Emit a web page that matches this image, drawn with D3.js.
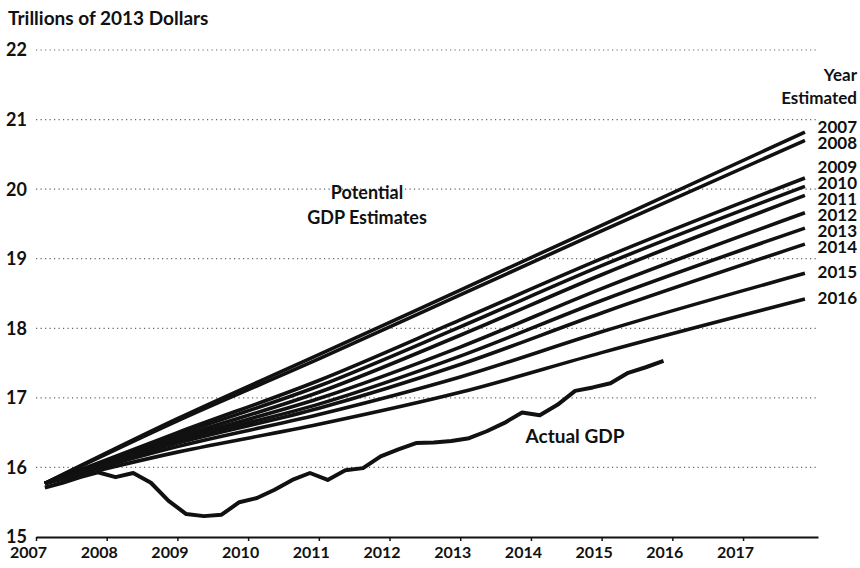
<!DOCTYPE html>
<html>
<head>
<meta charset="utf-8">
<script src="https://cdn.jsdelivr.net/npm/d3@7"></script>
<style>
  body { margin: 0; background: #fff; }
  text { font-family: Lato, "Open Sans", sans-serif; fill: #111; }
</style>
</head>
<body>
<svg id="chart"></svg>
<script>
(function (d3) {
  'use strict'
  // data
  const W = 860
  const H = 568

  const yTicks = [15, 16, 17, 18, 19, 20, 21, 22]
  const xTicks = [2007, 2008, 2009, 2010, 2011, 2012, 2013, 2014, 2015, 2016, 2017]

  // potential GDP estimates, one line per year estimated
  const vintages = [2007, 2008, 2009, 2010, 2011, 2012, 2013, 2014, 2015, 2016]
  const estYears = [2007.125, 2009, 2011, 2013, 2015, 2017.875]
  const est2007 = [15.77, 16.70, 17.62, 18.55, 19.48, 20.82]
  const est2008 = [15.77, 16.67, 17.56, 18.48, 19.40, 20.70]
  const est2009 = [15.77, 16.50, 17.25, 18.12, 19.00, 20.16]
  const est2010 = [15.77, 16.47, 17.17, 18.02, 18.90, 20.04]
  const est2011 = [15.77, 16.43, 17.08, 17.90, 18.77, 19.91]
  const est2012 = [15.77, 16.40, 16.99, 17.73, 18.57, 19.66]
  const est2013 = [15.77, 16.38, 16.91, 17.60, 18.40, 19.44]
  const est2014 = [15.77, 16.35, 16.85, 17.48, 18.22, 19.21]
  const est2015 = [15.77, 16.30, 16.76, 17.30, 17.95, 18.79]
  const est2016 = [15.77, 16.22, 16.62, 17.08, 17.65, 18.42]
  const estimates = [est2007, est2008, est2009, est2010, est2011,
    est2012, est2013, est2014, est2015, est2016]

  // actual GDP, quarterly from 2007Q1 to 2015Q4
  const actualStart = 2007
  const actualGdp = [
    15.71, 15.78, 15.86, 15.93,
    15.86, 15.92, 15.78, 15.52,
    15.33, 15.30, 15.32, 15.50,
    15.56, 15.68, 15.82, 15.92,
    15.82, 15.96, 15.99, 16.16,
    16.26, 16.35, 16.36, 16.38,
    16.42, 16.52, 16.64, 16.79,
    16.75, 16.90, 17.10, 17.15,
    17.21, 17.36, 17.44, 17.53
  ]

  // scales
  const x = d3.scaleLinear().domain([2007, 2018.06]).range([36, 818])
  const y = d3.scaleLinear().domain([15, 22]).range([537, 50])

  const svg = d3.select('#chart').attr('width', W).attr('height', H)

  // title
  svg.append('text')
    .attr('x', 8).attr('y', 25)
    .style('font-size', '19px').style('font-weight', 700)
    .text('Trillions of 2013 Dollars')

  // dotted grid
  svg.append('g').selectAll('line')
    .data(yTicks.filter(d => d > 15))
    .enter().append('line')
    .attr('x1', 36).attr('x2', 816)
    .attr('y1', d => y(d)).attr('y2', d => y(d))
    .attr('stroke', '#666').attr('stroke-width', 1.2)
    .attr('stroke-dasharray', '1.2,3.3')

  // y labels
  svg.append('g').selectAll('text')
    .data(yTicks)
    .enter().append('text')
    .attr('x', 27).attr('y', d => y(d)).attr('dy', '0.36em')
    .attr('text-anchor', 'end')
    .style('font-size', '18px').style('font-weight', 700)
    .text(d => d)

  // x axis (labels sit a little left of their ticks, as in the print)
  const xAxis = svg.append('g')
    .attr('transform', 'translate(0,' + y(15) + ')')
    .call(d3.axisBottom(x).tickValues(xTicks).tickFormat(d3.format('d'))
      .tickSize(4).tickSizeOuter(0).tickPadding(6))
  xAxis.select('.domain').attr('stroke', '#111').attr('stroke-width', 2)
  xAxis.selectAll('.tick line').attr('stroke', '#111').attr('stroke-width', 1.5)
  xAxis.selectAll('.tick text')
    .attr('dx', -8)
    .style('font-family', 'Lato, sans-serif')
    .style('font-size', '16px').style('font-weight', 700)
    .attr('fill', '#111')

  // lines
  const line = d3.line()
    .x(d => x(d[0])).y(d => y(d[1]))
    .curve(d3.curveMonotoneX)

  svg.append('g').selectAll('path')
    .data(estimates)
    .enter().append('path')
    .attr('d', vals => line(vals.map((v, i) => [estYears[i], v])))
    .attr('fill', 'none').attr('stroke', '#111')
    .attr('stroke-width', 3.6).attr('stroke-linejoin', 'round')

  const actualPts = actualGdp.map((v, i) => [actualStart + i / 4 + 0.125, v])
  svg.append('path')
    .attr('d', d3.line().x(d => x(d[0])).y(d => y(d[1]))(actualPts))
    .attr('fill', 'none').attr('stroke', '#111')
    .attr('stroke-width', 4).attr('stroke-linejoin', 'round')

  // vintage labels, placed at line ends and pushed apart
  const labels = vintages.map((v, i) => ({ name: v, pos: y(estimates[i][estimates[i].length - 1]) }))
  const gap = 16
  for (let k = 0; k < 40; k++) {
    for (let i = 1; i < labels.length; i++) {
      const diff = labels[i].pos - labels[i - 1].pos
      if (diff < gap) {
        const push = (gap - diff) / 2
        labels[i].pos += push
        labels[i - 1].pos -= push
      }
    }
  }
  svg.append('g').selectAll('text')
    .data(labels)
    .enter().append('text')
    .attr('x', 857).attr('y', d => d.pos - 1).attr('dy', '0.36em')
    .attr('text-anchor', 'end')
    .style('font-size', '17px').style('font-weight', 700)
    .text(d => d.name)

  svg.append('text').attr('x', 857).attr('y', 81)
    .attr('text-anchor', 'end')
    .style('font-size', '17px').style('font-weight', 700)
    .text('Year')
  svg.append('text').attr('x', 857).attr('y', 104)
    .attr('text-anchor', 'end')
    .style('font-size', '17px').style('font-weight', 700)
    .text('Estimated')

  // annotations
  svg.append('text').attr('x', 367).attr('y', 199)
    .attr('text-anchor', 'middle')
    .style('font-size', '18px').style('font-weight', 700)
    .text('Potential')
  svg.append('text').attr('x', 367).attr('y', 224)
    .attr('text-anchor', 'middle')
    .style('font-size', '18px').style('font-weight', 700)
    .text('GDP Estimates')
  svg.append('text').attr('x', 575).attr('y', 443)
    .attr('text-anchor', 'middle')
    .style('font-size', '19px').style('font-weight', 700)
    .text('Actual GDP')

}(d3))
</script>
</body>
</html>
